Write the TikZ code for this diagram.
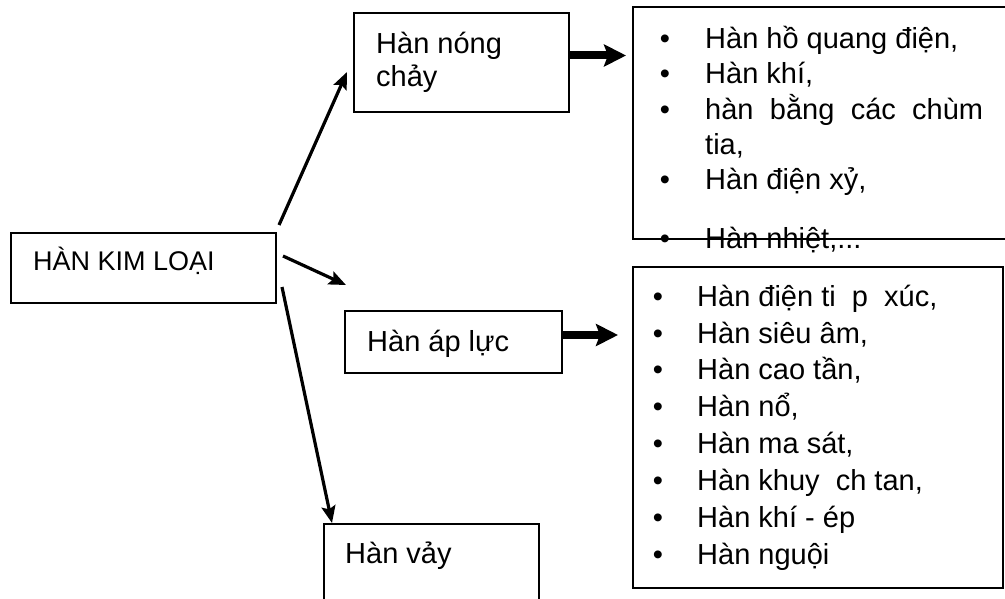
\documentclass[tikz,border=0pt]{standalone}
\usepackage{fontspec}
\setmainfont{Liberation Sans}
\usetikzlibrary{arrows.meta,calc}
\begin{document}
\begin{tikzpicture}[x=1pt,y=-1pt,
  box/.style={draw, line width=2.2pt, inner sep=0pt, outer sep=0pt, anchor=north west},
  txt/.style={anchor=base west, inner sep=0pt, font=\fontsize{29}{34}\selectfont},
  bul/.style={anchor=base, inner sep=0pt, font=\fontsize{29}{34}\selectfont},
  arr/.style={line width=3.2pt, -{Stealth[length=17pt,width=14pt,inset=3pt]}},
  fat/.style={line width=8pt, -{Stealth[length=22pt,width=22pt,inset=4pt]}}]
\useasboundingbox (0,0) rectangle (1005,599);
% boxes
\node[box, minimum width=265pt, minimum height=70pt] (hkl) at (11,233) {};
\node[box, minimum width=215pt, minimum height=99pt] (nc) at (354,13) {};
\node[box, minimum width=217pt, minimum height=62pt] (al) at (345,311) {};
\node[box, minimum width=215pt, minimum height=100pt] (vay) at (324,524) {};
\node[box, minimum width=390pt, minimum height=232pt] (l1) at (633,7) {};
\node[box, minimum width=370pt, minimum height=321pt] (l2) at (633,267) {};
% box texts
\node[txt, font=\fontsize{27}{32}\selectfont] (thkl) at (33,270) {HÀN KIM LOẠI};
\node[txt] (tnc1) at (376,54) {Hàn nóng};
\node[txt] (tnc2) at (376,87) {chảy};
\node[txt] (tal) at (367,351) {Hàn áp lực};
\node[txt] (tvay) at (345,563) {Hàn vảy};
% list 1
\node[bul] (b11) at (665,49) {•};
\node[txt] (t11) at (705,49) {Hàn hồ quang điện,};
\node[bul] (b12) at (665,84) {•};
\node[txt] (t12) at (705,84) {Hàn khí,};
\node[bul] (b13) at (665,120) {•};
\node[txt] (t13) at (705,120) {\makebox[278pt][s]{hàn bằng các chùm}};
\node[txt] (t13b) at (705,155) {tia,};
\node[bul] (b14) at (665,190) {•};
\node[txt] (t14) at (705,190) {Hàn điện xỷ,};
\node[bul] (b15) at (665,248) {•};
\node[txt] (t15) at (705,248) {Hàn nhiệt,...};
% list 2
\node[bul] (b21) at (658,306) {•};
\node[txt] (t21) at (697,306) {Hàn điện ti\ \ p\ \ xúc,};
\node[bul] (b22) at (658,343) {•};
\node[txt] (t22) at (697,343) {Hàn siêu âm,};
\node[bul] (b23) at (658,379) {•};
\node[txt] (t23) at (697,379) {Hàn cao tần,};
\node[bul] (b24) at (658,416) {•};
\node[txt] (t24) at (697,416) {Hàn nổ,};
\node[bul] (b25) at (658,453) {•};
\node[txt] (t25) at (697,453) {Hàn ma sát,};
\node[bul] (b26) at (658,490) {•};
\node[txt] (t26) at (697,490) {Hàn khuy\ \ ch tan,};
\node[bul] (b27) at (658,527) {•};
\node[txt] (t27) at (697,527) {Hàn khí - ép};
\node[bul] (b28) at (658,564) {•};
\node[txt] (t28) at (697,564) {Hàn nguội};
% connectors
\coordinate (a1s) at ($(hkl.north east)+(3,-8)$);
\coordinate (a1e) at ($(nc.west)+(-7,9.5)$);
\draw[arr] (a1s) -- (a1e);
\coordinate (a2s) at ($(hkl.east)+(7,-12)$);
\coordinate (a2e) at ($(al.north west)+(1,-26)$);
\draw[arr] (a2s) -- (a2e);
\coordinate (a3s) at ($(hkl.east)+(6,19)$);
\coordinate (a3e) at ($(vay.north west)+(8,-1)$);
\draw[arr] (a3s) -- (a3e);
\coordinate (f1s) at ($(nc.east)+(0,-7)$);
\draw[fat, shorten >=7pt] (f1s) -- (f1s -| l1.west);
\coordinate (f2s) at ($(al.east)+(0,-7)$);
\draw[fat, shorten >=15pt] (f2s) -- (f2s -| l2.west);
\end{tikzpicture}
\end{document}
